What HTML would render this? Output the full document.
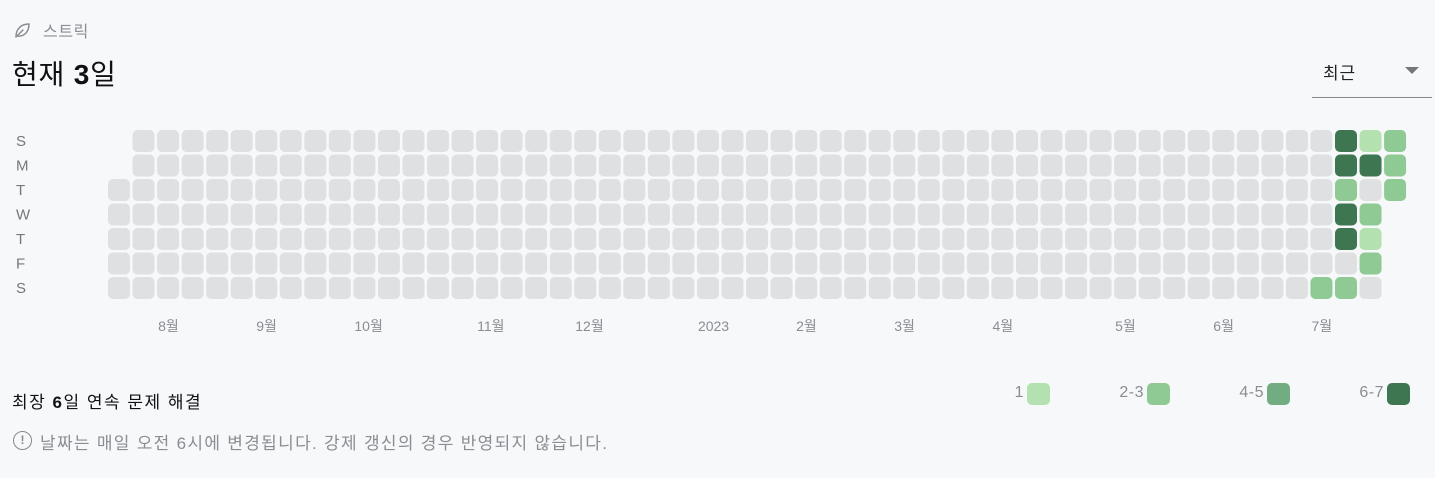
<!DOCTYPE html>
<html><head><meta charset="utf-8">
<style>
body{margin:0;width:1435px;height:478px;background:#f7f8fa;font-family:"Liberation Sans","Noto Sans CJK KR",sans-serif;position:relative;overflow:hidden}
.abs{position:absolute;white-space:nowrap}
</style></head><body>
<svg class="abs" style="left:13px;top:21px" width="18" height="18" viewBox="0 0 18 18"><path d="M3 16 C3 8 8 3 16 3 C16 11 11 16 4 15 M4 15 L10 9" fill="none" stroke="#8a8d93" stroke-width="1.5" stroke-linecap="round"/></svg>
<div class="abs" style="left:43px;top:18px;font-size:16px;letter-spacing:0.6px;color:#8a8d93">스트릭</div>
<div class="abs" style="left:12px;top:53px;font-size:28px;letter-spacing:0.8px;color:#111">현재 <b>3</b>일</div>
<div class="abs" style="left:1312px;top:58px;width:120px;height:39px;border-bottom:1.5px solid #888">
<span style="position:absolute;left:11px;top:1px;font-size:17px;letter-spacing:0.8px;color:#222">최근</span>
<span style="position:absolute;left:93px;top:9px;width:0;height:0;border-left:7px solid transparent;border-right:7px solid transparent;border-top:7px solid #777"></span>
</div>
<svg id="grid" class="abs" style="left:0;top:0" width="1435" height="340"></svg>
<div class="abs" style="left:12px;top:388px;font-size:17px;letter-spacing:1.5px;color:#111">최장 <b>6</b>일 연속 문제 해결</div>
<div id="legend"></div>
<div class="abs" style="left:13px;top:431px;width:17px;height:17px;border:1.6px solid #888;border-radius:50%;font-size:12px;line-height:17px;text-align:center;color:#888;font-weight:bold">!</div>
<div class="abs" style="left:40px;top:429px;font-size:17px;letter-spacing:1.3px;color:#8a8d93">날짜는 매일 오전 6시에 변경됩니다. 강제 갱신의 경우 반영되지 않습니다.</div>
<script>
const dayLabels=["S","M","T","W","T","F","S"];
const monthLabels=["8월","9월","10월","11월","12월","2023","2월","3월","4월","5월","6월","7월"];
const monthColumns=[2,6,10,15,19,24,28,32,36,41,45,49];
// per-week levels for S..S rows; "x" = no day
const weekLevels=["xx00000"].concat(Array(48).fill("0000000")).concat(["0000002","4424402","1402120","222xxxx"]);
const legendLabels=["1","2-3","4-5","6-7"];
const colors=["#dfe0e2","#b3e1b0","#8fca95","#71ad80","#3e7652"];
const NS="http://www.w3.org/2000/svg";
const svg=document.getElementById('grid');
const x0=108,y0=130,pitch=24.54,cell=22;
const colX=c=>x0+c*pitch, rowY=r=>y0+r*24.5;
dayLabels.forEach((d,r)=>{const t=document.createElementNS(NS,'text');


t.setAttribute('x',16);t.setAttribute('y',rowY(r)+16);t.setAttribute('font-size','15');t.setAttribute('fill','#777');t.textContent=d;svg.appendChild(t);});
weekLevels.forEach((w,c)=>{for(let r=0;r<7;r++){if(w[r]==='x')continue;
const e=document.createElementNS(NS,'rect');


e.setAttribute('x',colX(c));e.setAttribute('y',rowY(r));e.setAttribute('width',cell);e.setAttribute('height',cell);e.setAttribute('rx',5);e.setAttribute('fill',colors[+w[r]]);svg.appendChild(e);}});
monthLabels.forEach((m,i)=>{const t=document.createElementNS(NS,'text');


t.setAttribute('x',colX(monthColumns[i])+1);t.setAttribute('y',331);t.setAttribute('font-size','14');t.setAttribute('fill','#8a8d93');t.setAttribute('font-family','"Liberation Sans","Noto Sans CJK KR",sans-serif');t.textContent=m;svg.appendChild(t);});
const lg=document.getElementById('legend');
legendLabels.forEach((l,i)=>{const bx=1027+i*120;
const b=document.createElement('div');


b.className='abs';b.style.cssText=`left:${bx}px;top:383px;width:23px;height:22px;border-radius:5px;background:${colors[i+1]}`;lg.appendChild(b);
const t=document.createElement('div');


t.className='abs';t.style.cssText=`right:${1435-bx+3}px;top:384px;font-size:16px;letter-spacing:0.5px;color:#8a8d93`;t.textContent=l;lg.appendChild(t);});
</script>
</body></html>
